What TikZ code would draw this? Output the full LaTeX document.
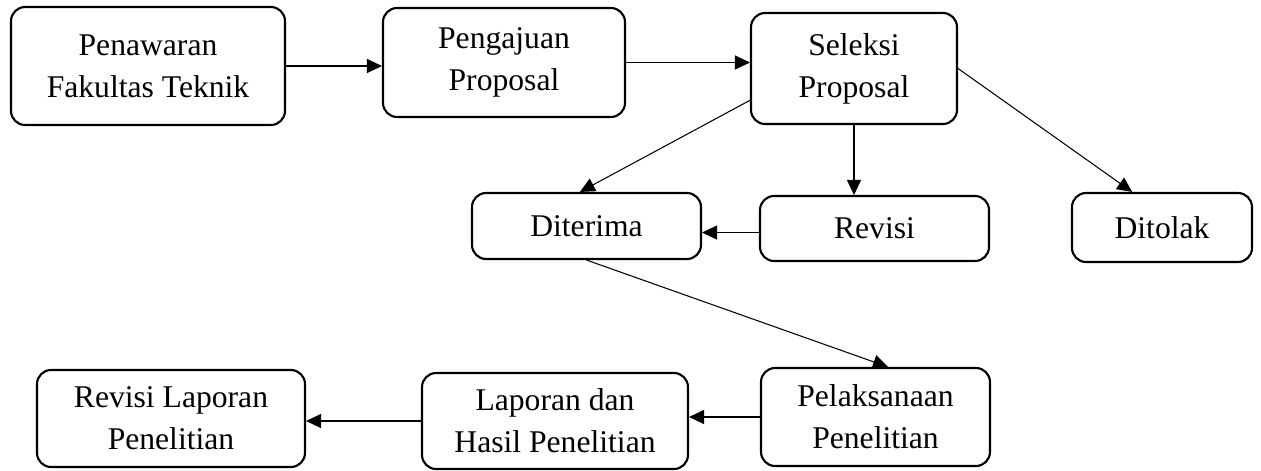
\documentclass[tikz,border=0pt]{standalone}
\usepackage{fontspec}
\setmainfont{Liberation Serif}
\usetikzlibrary{arrows.meta}

\tikzset{
  box/.style={draw, line width=1.2pt, rounded corners=0.28cm, align=center,
    inner sep=0pt, font=\fontsize{18}{24}\selectfont},
  arr/.style={line width=0.6pt, -{Triangle[length=0.3cm,width=0.28cm]}}
}

\begin{document}
\begin{tikzpicture}[x=0.02cm, y=-0.02cm]
		\useasboundingbox (0,0) rectangle (1261,470);
		% top row
		\node[box, minimum width=5.48cm, minimum height=2.36cm] (pen) at (148,66) {Penawaran\\Fakultas Teknik};
		\node[box, minimum width=4.84cm, minimum height=2.18cm] (peng) at (504,62.5) {Pengajuan\\Proposal};
		\node[box, minimum width=4.12cm, minimum height=2.22cm] (sel) at (854,68.5) {Seleksi\\Proposal};
		% middle row
		\node[box, minimum width=4.58cm, minimum height=1.32cm] (dit) at (586.5,226) {Diterima};
		\node[box, minimum width=4.58cm, minimum height=1.30cm] (rev) at (874.5,228.5) {Revisi};
		\node[box, minimum width=3.60cm, minimum height=1.38cm] (tol) at (1162,227.5) {Ditolak};
		% bottom row
		\node[box, minimum width=5.36cm, minimum height=1.94cm] (revlap) at (171,418.5) {Revisi Laporan\\Penelitian};
		\node[box, minimum width=5.32cm, minimum height=1.92cm] (lap) at (555,421) {Laporan dan\\Hasil Penelitian};
		\node[box, minimum width=4.58cm, minimum height=1.96cm] (pel) at (875.5,417) {Pelaksanaan\\Penelitian};

		\draw[arr] (pen.east) -- (pen.east -| peng.west);
		\draw[arr] (peng.east) -- (peng.east -| sel.west);
		\draw[arr] (sel.197) -- (dit.101);
		\draw[arr] (sel.south) -- (sel.south |- rev.north);
		\draw[arr] (sel.east) -- (tol.130);
		\draw[arr] (rev.182) -- (rev.182 -| dit.east);
		\draw[arr] (dit.south) -- (pel.76);
		\draw[arr] (pel.west) -- (pel.west -| lap.east);
		\draw[arr] (lap.west) -- (lap.west -| revlap.east);
\end{tikzpicture}
\end{document}
